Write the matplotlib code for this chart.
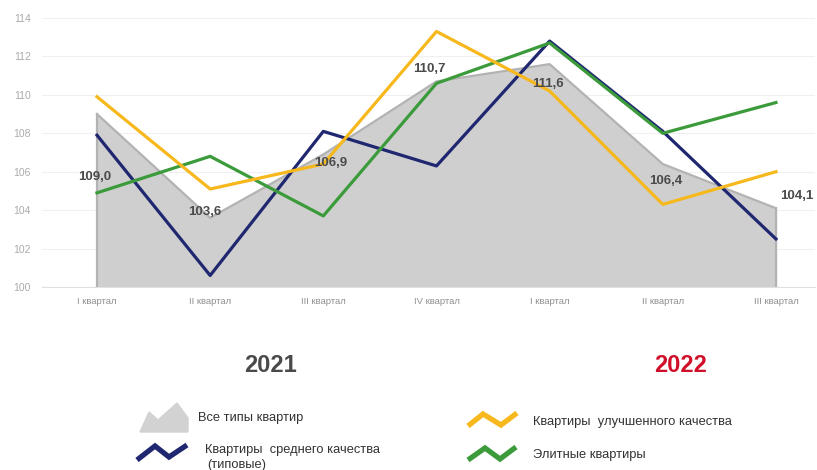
import matplotlib
matplotlib.use("Agg")
import matplotlib.pyplot as plt
from matplotlib.patches import Polygon
import numpy as np

plt.rcParams['font.family'] = ['Liberation Sans', 'DejaVu Sans']

# quarters 2021 Q1 .. 2022 Q3
quarters = ['I квартал', 'II квартал', 'III квартал', 'IV квартал',
            'I квартал', 'II квартал', 'III квартал']
all_types = [109.0, 103.6, 106.9, 110.7, 111.6, 106.4, 104.1]
typical = [107.9, 100.6, 108.1, 106.3, 112.8, 108.1, 102.5]
improved = [109.9, 105.1, 106.4, 113.3, 110.2, 104.3, 106.0]
elite = [104.9, 106.8, 103.7, 110.6, 112.7, 108.0, 109.6]

# label offsets (points) for the "all types" values
label_offsets = [(-2, -45), (-4, 4), (5, -6), (-5, 9), (-1, -14), (2, -12), (15, 9)]

c_area = '#cfcfcf'
c_edge = '#b3b3b3'
c_navy = '#1f2770'
c_yellow = '#f6b81c'
c_green = '#3b9b3b'

fig = plt.figure(figsize=(8.17, 4.70), dpi=100)
ax = fig.add_axes([42 / 817, 1 - 287 / 470, (815 - 42) / 817, (287 - 18) / 470])

x = np.arange(len(quarters))
ax.fill_between(x, 100, all_types, color=c_area, zorder=1)
ax.plot(x, all_types, color=c_edge, lw=1.6, zorder=2)
ax.plot([x[0], x[0]], [100, all_types[0]], color=c_edge, lw=1.6, zorder=2)
ax.plot([x[-1], x[-1]], [100, all_types[-1]], color=c_edge, lw=1.6, zorder=2)

ax.plot(x, typical, color=c_navy, lw=2.3, zorder=3)
ax.plot(x, elite, color=c_green, lw=2.3, zorder=4)
ax.plot(x, improved, color=c_yellow, lw=2.3, zorder=5)

for xi, v, off in zip(x, all_types, label_offsets):
    ax.annotate(f'{v:.1f}'.replace('.', ','), (xi, v), xytext=off,
                textcoords='offset points', ha='center', va='center',
                fontsize=9.5, fontweight='bold', color='#4a4a4a', zorder=6)

ax.set_xlim(-0.486, 6.345)
ax.set_ylim(100, 114)
ax.set_yticks(np.arange(100, 115, 2))
ax.set_xticks(x)
ax.set_xticklabels(quarters)
ax.tick_params(axis='y', length=0, pad=8, labelsize=7.5, labelcolor='#ababab')
ax.tick_params(axis='x', length=0, pad=7, labelsize=6.8, labelcolor='#8f8f8f')
ax.grid(axis='y', color='#f0f0f0', lw=0.8, zorder=0)
for s in ['top', 'right', 'left']:
    ax.spines[s].set_visible(False)
ax.spines['bottom'].set_color('#e0e0e0')
ax.set_axisbelow(True)

# legend block drawn in pixel coordinates
lg = fig.add_axes([0, 0, 1, 1], zorder=-1)
lg.set_xlim(0, 817)
lg.set_ylim(470, 0)
lg.axis('off')

lg.text(271, 365, '2021', ha='center', va='center', fontsize=17,
        fontweight='bold', color='#4a4a4a')
lg.text(681, 365, '2022', ha='center', va='center', fontsize=17,
        fontweight='bold', color='#d0102a')

lg.add_patch(Polygon([(140, 432), (149, 412), (158, 420), (177, 403), (188, 418), (188, 432)],
                     closed=True, color='#d2d2d2'))
zig_kw = dict(lw=3.8, solid_joinstyle='miter', solid_capstyle='butt')
lg.plot([137, 155, 169, 187], [460, 446, 457, 445], color=c_navy, **zig_kw)
lg.plot([468, 483, 501, 517], [426, 414, 425, 413], color=c_yellow, **zig_kw)
lg.plot([468, 485, 500, 516], [460, 448, 459, 447], color=c_green, **zig_kw)

legend_fs = 9.3
lg.text(198, 418, 'Все типы квартир', va='center', fontsize=legend_fs, color='#333333')
lg.text(205, 450, 'Квартиры  среднего качества', va='center', fontsize=legend_fs,
        color='#333333')
lg.text(207, 465, '(типовые)', va='center', fontsize=legend_fs, color='#333333')
lg.text(533, 422, 'Квартиры  улучшенного качества', va='center', fontsize=legend_fs,
        color='#333333')
lg.text(533, 455, 'Элитные квартиры', va='center', fontsize=legend_fs, color='#333333')

fig.savefig('out.png', dpi=100, facecolor='white')
